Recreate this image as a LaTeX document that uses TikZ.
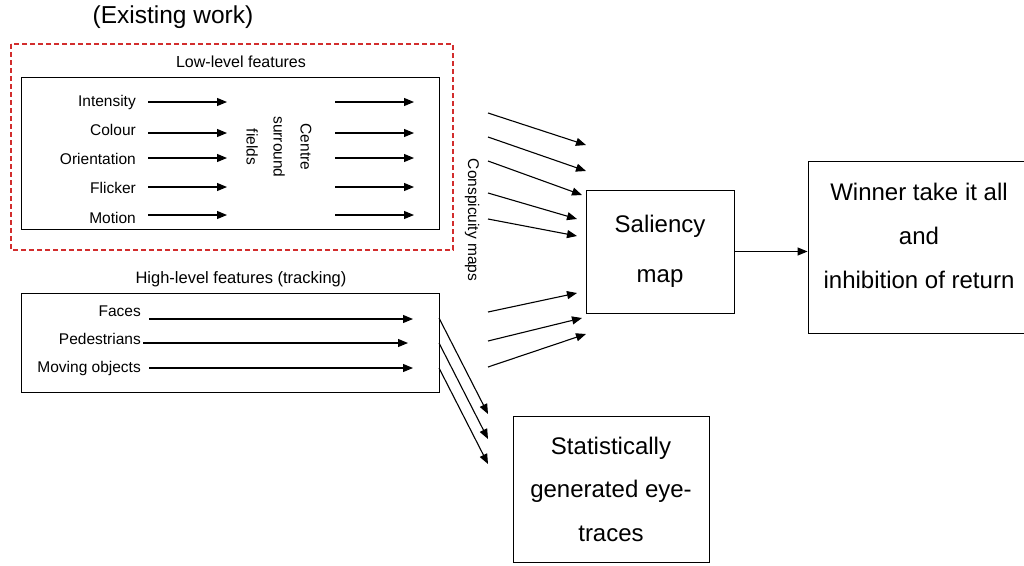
\documentclass[tikz,border=0pt]{standalone}
\usepackage{fontspec}
\setmainfont{Liberation Sans}
\usetikzlibrary{arrows.meta,positioning}
\definecolor{dashred}{RGB}{210,45,45}

\begin{document}
\begin{tikzpicture}[x=1pt, y=-1pt,
    flow/.style={line width=1.1pt, -{Triangle[length=10pt,width=8pt]}},
    box/.style={draw, line width=0.9pt, inner sep=0pt},
    feat/.style={anchor=base east, inner sep=0pt, font=\fontsize{15.5}{18}\selectfont},
    big/.style={box, align=center, font=\fontsize{24}{44}\selectfont}]
  % fix the page to the reference size
  \path[use as bounding box] (0,0) rectangle (1024,565);

  \node (existing) at (173,17) {\fontsize{24.5}{28}\selectfont (Existing work)};
  \draw[dashred, dash pattern=on 5pt off 3pt, line width=1.1pt] (11,44) rectangle (453,250);
  \node (lowtitle) at (241,62) {\fontsize{16}{19}\selectfont Low-level features};
  \node (lowbox) [box, minimum width=418pt, minimum height=152pt] at (230,153) {};

  % low-level feature rows
  \foreach \name/\txt/\base/\ay in {int/Intensity/106/102, col/Colour/135/133,
      ori/Orientation/164/158, fli/Flicker/193/187, mot/Motion/223/215} {
    \node (\name) [feat] at (136,\base) {\txt};
    \coordinate (\name a) at (148,\ay);
    \coordinate (\name b) at (227,\ay);
    \coordinate (\name c) at (335,\ay);
    \coordinate (\name d) at (414,\ay);
    \draw[flow] (\name a) -- (\name b);
    \draw[flow] (\name c) -- (\name d);
  }
  \node (csf) [rotate=-90, align=center, font=\fontsize{15.5}{27}\selectfont] at (279,147)
    {Centre\\surround\\fields};

  \node (hightitle) at (241,279) {\fontsize{16.5}{19}\selectfont High-level features (tracking)};
  \node (highbox) [box, minimum width=418pt, minimum height=99pt] at (230,342.5) {};

  % high-level feature rows
  \foreach \name/\txt/\base/\ax/\bx/\ay in {fac/Faces/316/149/413/319,
      ped/Pedestrians/344/143/408/343, mov/Moving objects/372/149/413/368} {
    \node (\name) [feat] at (141,\base) {\txt};
    \coordinate (\name a) at (\ax,\ay);
    \coordinate (\name b) at (\bx,\ay);
    \draw[flow] (\name a) -- (\name b);
  }

  \node (consp) [rotate=-90, font=\fontsize{15.5}{18}\selectfont] at (472,220) {Conspicuity maps};

  \node (sal) [big, minimum width=148pt, minimum height=123pt] at (660,251.5) {Saliency\\[6pt]map};
  \node (win) [box, minimum width=222pt, minimum height=172pt] at (919,247) {};
  \node (wintxt) [align=center, inner sep=0pt, font=\fontsize{24}{44}\selectfont] at (919,236)
    {Winner take it all\\and\\inhibition of return};
  \node (stat) [big, font=\fontsize{24}{43.5}\selectfont, minimum width=196pt, minimum height=146pt]
    at (611,489) {Statistically\\generated eye-\\traces};

  \draw[flow] (sal.east) -- (sal.east -| win.west);

  % conspicuity maps into the saliency map
  \foreach \i/\sy/\ex/\ey in {1/113/586/145, 2/137/586/171, 3/161/582/195, 4/193/577/219,
      5/219/577/236, 6/312/577/293, 7/341/582/318, 8/367/586/334} {
    \coordinate (cs\i) at (488,\sy);
    \coordinate (ce\i) at (\ex,\ey);
    \draw[flow] (cs\i) -- (ce\i);
  }

  % tracked objects into the eye-trace generator
  \foreach \i/\sy/\ey in {1/318/414, 2/343/439, 3/368/464} {
    \coordinate (ts\i) at (439,\sy);
    \coordinate (te\i) at (488,\ey);
    \draw[flow] (ts\i) -- (te\i);
  }
\end{tikzpicture}
\end{document}
